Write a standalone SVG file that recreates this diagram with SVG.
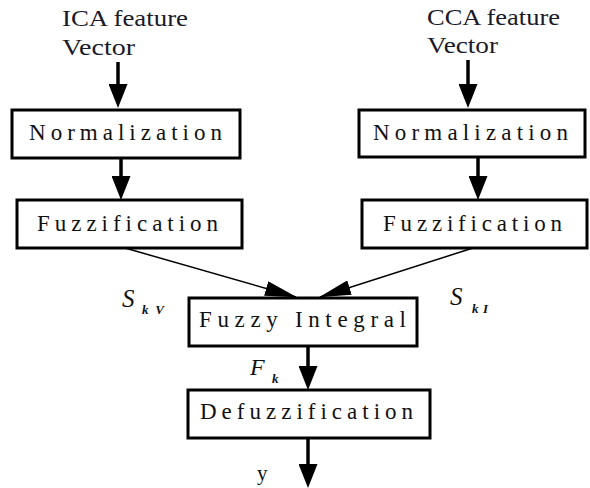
<svg xmlns="http://www.w3.org/2000/svg" width="590" height="488" viewBox="0 0 590 488">
<style>
.box{fill:#fff;stroke:#000;stroke-width:3}
.thick{stroke:#000;stroke-width:3.5;fill:none}
.thin{stroke:#000;stroke-width:1.5;fill:none}
</style>
<defs>
<marker id="hd" viewBox="0 0 24 19" refX="16" refY="9.5" markerWidth="24" markerHeight="19" markerUnits="userSpaceOnUse" orient="auto">
<path d="M0,0 L24,9.5 L0,19 z" fill="#000"/>
</marker>
<marker id="hdThin" viewBox="0 0 32 15" refX="31" refY="7.5" markerWidth="32" markerHeight="15" markerUnits="userSpaceOnUse" orient="auto">
<path d="M0,0 L32,7.5 L0,15 z" fill="#000"/>
</marker>
</defs>
<g id="labels" font-family="Liberation Serif, Times New Roman, serif" fill="#111">
<g font-size="24" fill="#1a1a2a">
<text x="62" y="26" textLength="126" lengthAdjust="spacingAndGlyphs">ICA feature</text>
<text x="62" y="55" textLength="73" lengthAdjust="spacingAndGlyphs">Vector</text>
<text x="427" y="25" textLength="133" lengthAdjust="spacingAndGlyphs">CCA feature</text>
<text x="427" y="53" textLength="71" lengthAdjust="spacingAndGlyphs">Vector</text>
</g>
<g font-style="italic">
<text x="122" y="307" font-size="25">S</text>
<text x="142" y="314" font-size="13" font-weight="bold" textLength="22" lengthAdjust="spacing">kV</text>
<text x="450" y="305" font-size="25">S</text>
<text x="472" y="313" font-size="13" font-weight="bold" textLength="16" lengthAdjust="spacing">kI</text>
<text x="250" y="375" font-size="24">F</text>
<text x="272" y="383" font-size="13" font-weight="bold">k</text>
</g>
<text x="257" y="480" font-size="21">y</text>
</g>
<g id="connectors">
<line class="thick" x1="118" y1="62" x2="118" y2="100" marker-end="url(#hd)"/>
<line class="thick" x1="121" y1="158" x2="121" y2="192" marker-end="url(#hd)"/>
<line class="thick" x1="468" y1="60" x2="468" y2="100" marker-end="url(#hd)"/>
<line class="thick" x1="478" y1="157" x2="478" y2="192" marker-end="url(#hd)"/>
<line class="thin" x1="125" y1="248" x2="296" y2="297" marker-end="url(#hdThin)"/>
<line class="thin" x1="473" y1="248" x2="320" y2="297" marker-end="url(#hdThin)"/>
<line class="thick" x1="308" y1="346" x2="308" y2="382" marker-end="url(#hd)"/>
<line class="thick" x1="308" y1="438" x2="308" y2="480" marker-end="url(#hd)"/>
</g>
<g font-family="Liberation Serif, Times New Roman, serif" font-size="23" fill="#111">
<g id="normL">
<rect class="box" x="12" y="110" width="228" height="48"/>
<text x="29" y="140" textLength="193" lengthAdjust="spacing">Normalization</text>
</g>
<g id="fuzzL">
<rect class="box" x="17" y="200" width="225" height="48"/>
<text x="37" y="231" textLength="181" lengthAdjust="spacing">Fuzzification</text>
</g>
<g id="normR">
<rect class="box" x="359" y="110" width="226" height="47"/>
<text x="373" y="140" textLength="195" lengthAdjust="spacing">Normalization</text>
</g>
<g id="fuzzR">
<rect class="box" x="362" y="200" width="225" height="48"/>
<text x="383" y="231" textLength="179" lengthAdjust="spacing">Fuzzification</text>
</g>
<g id="integral">
<rect class="box" x="189" y="298" width="228" height="48"/>
<text x="199" y="327" textLength="207" lengthAdjust="spacing">Fuzzy Integral</text>
</g>
<g id="defuzz">
<rect class="box" x="188" y="390" width="242" height="48"/>
<text x="200" y="419" textLength="213" lengthAdjust="spacing">Defuzzification</text>
</g>
</g>
</svg>
